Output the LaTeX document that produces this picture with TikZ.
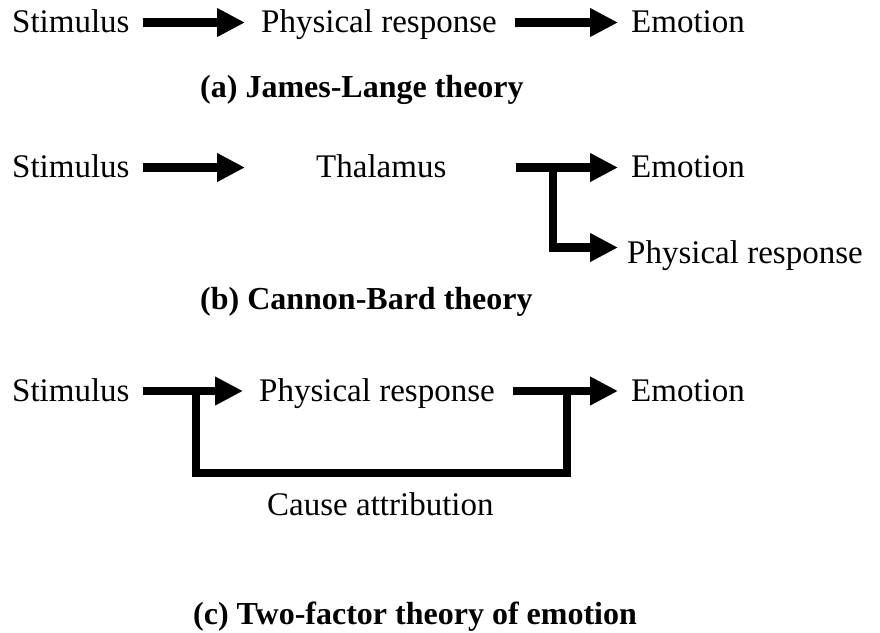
\documentclass[tikz,border=0pt]{standalone}
\usepackage{fontspec}
\setmainfont{Liberation Serif}
\newfontfamily\tnrfont{Liberation Serif}
\usetikzlibrary{arrows.meta}
\begin{document}
\begin{tikzpicture}[x=1pt,y=-1pt,
  lbl/.style={anchor=west, inner sep=0pt, text height=20pt, text depth=0pt,
              font=\tnrfont\fontsize{33}{40}\selectfont},
  ttl/.style={anchor=base west, inner sep=0pt, font=\tnrfont\fontsize{32}{38}\selectfont\bfseries},
  flow/.style={line width=8.5pt, line join=miter, -{Triangle[length=28pt,width=27pt]}},
  bar/.style={line width=8.5pt, line join=miter}]
\useasboundingbox (0,0) rectangle (880,632);

% (a) James-Lange
\node[lbl] (sa) at (12,22.5) {Stimulus};
\node[lbl] (pa) at (261,22.5) {Physical response};
\node[lbl] (ea) at (631,22.5) {Emotion};
\draw[flow, shorten <=13pt, shorten >=16pt] (sa.east) -- (pa.west);
\draw[flow, shorten <=18pt, shorten >=13pt] (pa.east) -- (ea.west);
\node[ttl] (ta) at (200,97) {(a) James-Lange theory};

% (b) Cannon-Bard
\node[lbl] (sb) at (12,167.5) {Stimulus};
\node[lbl] (hb) at (316,167.5) {Thalamus};
\node[lbl] (eb) at (631,167.5) {Emotion};
\node[lbl] (pb) at (627,253.5) {Physical response};
\draw[flow, shorten <=13pt, shorten >=71pt] (sb.east) -- (hb.west);
\draw[flow, shorten <=69pt, shorten >=13pt] (hb.east) -- (eb.west);
\coordinate (bj) at (553,167.5);
\draw[flow, shorten >=9pt] (bj) |- ([yshift=6pt]pb.west);
\node[ttl] (tb) at (200,309) {(b) Cannon-Bard theory};

% (c) Two-factor
\node[lbl] (sc) at (12,391) {Stimulus};
\node[lbl] (pc) at (259,391) {Physical response};
\node[lbl] (ec) at (631,391) {Emotion};
\draw[flow, shorten <=13pt, shorten >=16pt] (sc.east) -- (pc.west);
\draw[flow, shorten <=18pt, shorten >=13pt] (pc.east) -- (ec.west);
\coordinate (c1) at (196,391);
\coordinate (c2) at (567,391);
\draw[bar] (c1) -- ++(0,82) -| (c2);
\node[lbl, anchor=base west] (ca) at (267,515) {Cause attribution};
\node[ttl] (tc) at (193,624) {(c) Two-factor theory of emotion};
\end{tikzpicture}
\end{document}
